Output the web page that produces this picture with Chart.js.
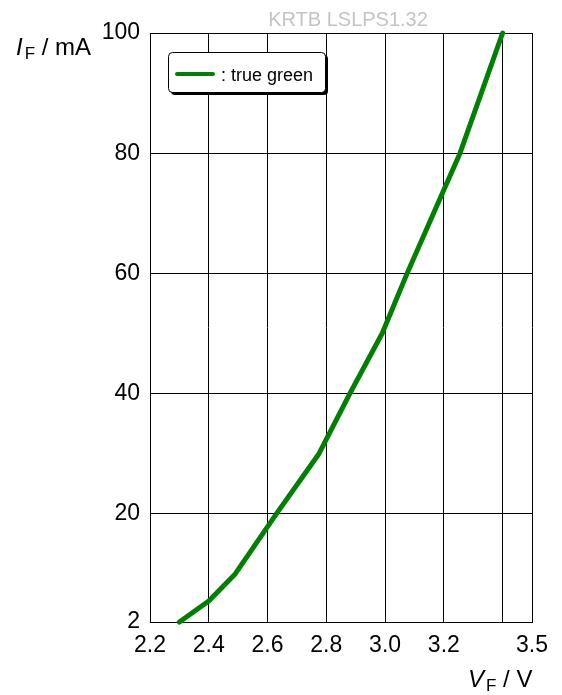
<!DOCTYPE html>
<html>
<head>
<meta charset="utf-8">
<script src="https://cdn.jsdelivr.net/npm/chart.js@4"></script>
<style>
html, body { margin: 0; padding: 0; background: #fff; }
#chart { display: block; }
</style>
</head>
<body>
<canvas id="chart" width="562" height="695"></canvas>
<script>
// forward voltage (V) vs forward current (mA)
const voltage = [2.30, 2.40, 2.49, 2.56, 2.63, 2.775, 2.88, 2.99, 3.075, 3.165, 3.255, 3.40];
const current = [2, 5.5, 10, 15, 20, 30, 40, 50, 60, 70, 80, 100];
const seriesName = ': true green';
const xTicks = [2.2, 2.4, 2.6, 2.8, 3.0, 3.2, 3.4, 3.5];
const xTickLabels = ['2.2', '2.4', '2.6', '2.8', '3.0', '3.2', '', '3.5'];
const yTicks = [2, 20, 40, 60, 80, 100];
const chartTitle = 'KRTB LSLPS1.32';

const FONT = '"Liberation Sans", Arial, sans-serif';
Chart.defaults.font.family = FONT;
Chart.defaults.color = '#000';

// draws title, axis names and the boxed legend
const decor = {
  id: 'decor',
  afterDraw(chart) {
    const ctx = chart.ctx;
    const area = chart.chartArea;
    ctx.save();

    // title
    ctx.fillStyle = '#c4c4c4';
    ctx.font = '20px ' + FONT;
    ctx.textAlign = 'center';
    ctx.textBaseline = 'alphabetic';
    ctx.fillText(chartTitle, 348, 26);

    // axis names with italic symbol and subscript
    function axisName(x, y, sym, unit) {
      ctx.fillStyle = '#000';
      ctx.textAlign = 'left';
      ctx.font = 'italic 24px ' + FONT;
      ctx.fillText(sym, x, y);
      x += ctx.measureText(sym).width + 2;
      ctx.font = '17px ' + FONT;
      ctx.fillText('F', x, y + 4);
      x += ctx.measureText('F').width;
      ctx.font = '24px ' + FONT;
      ctx.fillText(' / ' + unit, x, y);
    }
    axisName(16, 55, 'I', 'mA');
    axisName(468, 687, 'V', 'V');

    // legend box
    const ds = chart.data.datasets[0];
    const bx = area.left + 18, by = area.top + 19, bw = 157, bh = 40, r = 4;
    ctx.fillStyle = '#000';
    ctx.beginPath();
    ctx.roundRect(bx + 3, by + 3, bw, bh, r);
    ctx.fill();
    ctx.fillStyle = '#fff';
    ctx.strokeStyle = '#000';
    ctx.lineWidth = 1;
    ctx.beginPath();
    ctx.roundRect(bx + 0.5, by + 0.5, bw, bh, r);
    ctx.fill();
    ctx.stroke();

    ctx.strokeStyle = ds.borderColor;
    ctx.lineWidth = 4;
    ctx.lineCap = 'round';
    ctx.beginPath();
    ctx.moveTo(bx + 9, by + 22);
    ctx.lineTo(bx + 45, by + 22);
    ctx.stroke();

    ctx.fillStyle = '#000';
    ctx.font = '18px ' + FONT;
    ctx.textAlign = 'left';
    ctx.fillText(ds.label, bx + 53, by + 29);

    ctx.restore();
  }
};

const canvas = document.getElementById('chart');

new Chart(canvas, {
  type: 'line',
  data: {
    datasets: [{
      label: seriesName,
      data: voltage.map((v, i) => ({ x: v, y: current[i] })),
      borderColor: '#008000',
      borderWidth: 5,
      pointRadius: 0,
      tension: 0,
      borderCapStyle: 'round',
      borderJoinStyle: 'round',
      clip: false
    }]
  },
  options: {
    responsive: false,
    animation: false,
    layout: { padding: { top: 33, right: 30, bottom: 0, left: 0 } },
    plugins: {
      legend: { display: false },
      tooltip: { enabled: false }
    },
    scales: {
      x: {
        type: 'linear',
        min: 2.2,
        max: 3.5,
        afterBuildTicks: s => { s.ticks = xTicks.map(v => ({ value: v })); },
        afterFit: s => { s.height = 73; },
        ticks: {
          autoSkip: false,
          maxRotation: 0,
          padding: 10,
          font: { size: 23 },
          callback: (v, i) => xTickLabels[i]
        },
        grid: { color: '#000', lineWidth: 1, drawTicks: false },
        border: { color: '#000', width: 1 }
      },
      y: {
        type: 'linear',
        min: 2,
        max: 100,
        afterBuildTicks: s => { s.ticks = yTicks.map(v => ({ value: v })); },
        afterFit: s => { s.width = 150; },
        ticks: {
          autoSkip: false,
          padding: 10,
          font: { size: 23 }
        },
        grid: { color: '#000', lineWidth: 1, drawTicks: false },
        border: { color: '#000', width: 1 }
      }
    }
  },
  plugins: [decor]
});
</script>
</body>
</html>
